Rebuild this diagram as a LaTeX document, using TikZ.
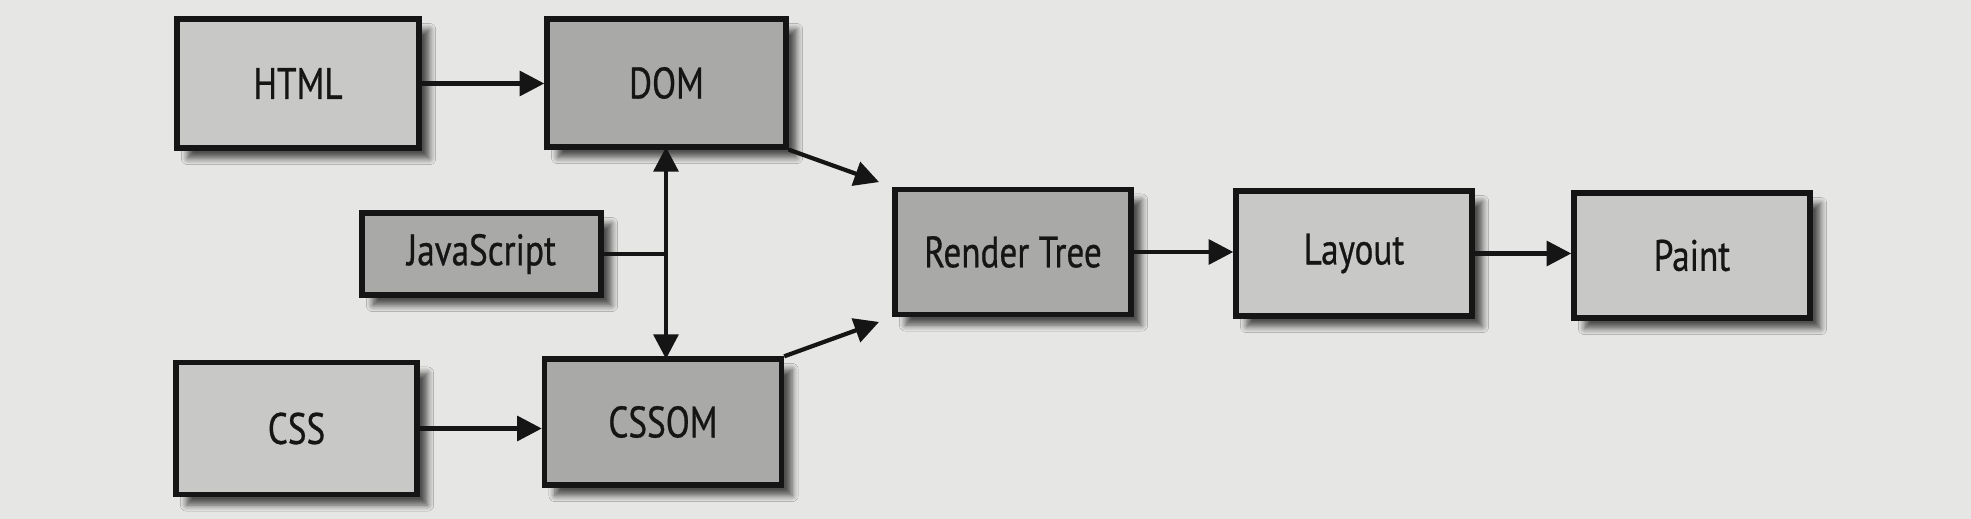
\documentclass[tikz,border=0pt]{standalone}
\usepackage{fontspec}
\setsansfont{PT Sans}[FakeStretch=0.8,FakeBold=0.6]
\usepackage{tikz}
\usetikzlibrary{arrows.meta,positioning,calc,shadows.blur}
\definecolor{pagegray}{HTML}{E6E6E4}
\definecolor{boxlight}{HTML}{C8C8C6}
\definecolor{boxdark}{HTML}{A9A9A7}
\definecolor{inkblack}{HTML}{151515}

\begin{document}
\begin{tikzpicture}[x=0.01cm,y=-0.01cm,
  stage/.style={draw=inkblack,line width=1.5pt,fill=boxlight,
    font=\sffamily\fontsize{12.5}{14}\selectfont,text=inkblack,
    minimum width=2.36cm,minimum height=1.25cm,inner sep=0pt,
    blur shadow={shadow xshift=3pt,shadow yshift=-3pt,shadow blur steps=7,shadow opacity=65}},
  dark/.style={fill=boxdark},
  flow/.style={draw=inkblack,line width=1.2pt,-{Triangle[length=7pt,width=7pt]}}]
\fill[pagegray] (0,0) rectangle (1971,519);
\useasboundingbox (0,0) rectangle (1971,519);
% first column: sources
\node[stage,minimum width=2.42cm,minimum height=1.29cm] (html) at (298,83.5) {HTML};
\node[stage,dark,minimum width=2.39cm,minimum height=0.82cm] (js) at (481.5,254) {JavaScript};
\node[stage,minimum width=2.41cm,minimum height=1.32cm] (css) at (296.5,428.5) {CSS};
% object models
\node[stage,dark,minimum width=2.39cm,minimum height=1.28cm] (dom) at (666.5,83) {DOM};
\node[stage,dark,minimum width=2.37cm,minimum height=1.26cm] (cssom) at (663,422) {CSSOM};
% pipeline
\node[stage,dark] (render) at (1013,252) {Render Tree};
\node[stage] (layout) at (1354,253.5) {Layout};
\node[stage] (paint) at (1692,255.5) {Paint};
% connectors
\draw[flow] (html.east) -- (html.east -| dom.west);
\draw[flow] (css.east) -- (css.east -| cssom.west);
\draw[flow,{Triangle[length=7pt,width=7pt]}-{Triangle[length=7pt,width=7pt]}] (666,147) -- (666,359);
\draw[flow,-] (js.east) -- (666,254);
\draw[flow,shorten >=4pt] (dom.south east) -- (render.north west);
\draw[flow,shorten >=4pt] (cssom.north east) -- (render.south west);
\draw[flow] (render.east) -- (render.east -| layout.west);
\draw[flow] (layout.east) -- (layout.east -| paint.west);
\end{tikzpicture}
\end{document}
